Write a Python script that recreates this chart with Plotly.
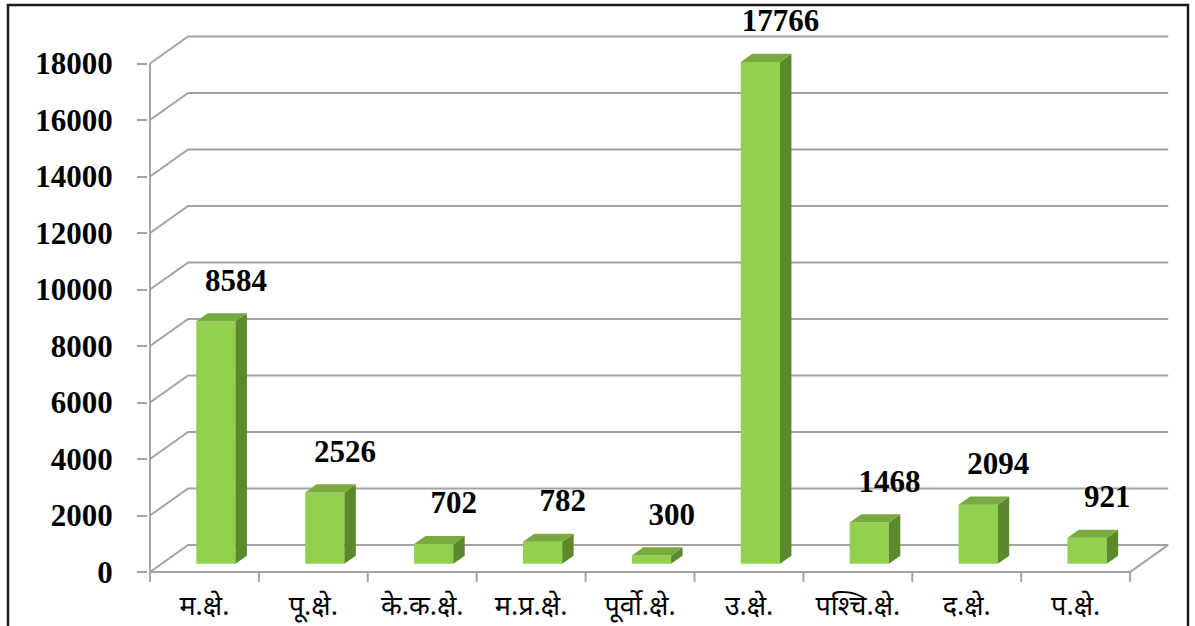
import plotly.graph_objects as go

# ---- data ----
categories = ["म.क्षे.", "पू.क्षे.", "के.क.क्षे.", "म.प्र.क्षे.", "पूर्वो.क्षे.",
              "उ.क्षे.", "पश्चि.क्षे.", "द.क्षे.", "प.क्षे."]
values = [8584, 2526, 702, 782, 300, 17766, 1468, 2094, 921]
y_ticks = [0, 2000, 4000, 6000, 8000, 10000, 12000, 14000, 16000, 18000]

# ---- geometry / style ----
W, H = 1195, 626
L, R, T, B = 148, 19, 12, 41
PX_CAT = 108.9      # px per category
PX_VAL = 0.02825    # px per value unit
OX, OY = 150, 572   # pixel position of data origin
x_min = (L - OX) / PX_CAT
x_max = (W - R - OX) / PX_CAT
y_min = -(H - B - OY) / PX_VAL
y_max = (OY - T) / PX_VAL

DX, DY = 0.35, 960          # full depth offset (data units)
F1, F2 = 0.30, 0.60         # bar front / back depth fraction
BAR_W = 0.36
n = len(categories)
GRID = "#A3A3A3"
FRONT = "#92D050"
SIDE = "#5B892C"
TOP = "#78AA3E"
LABEL_FONT = dict(family="Liberation Serif", size=31, color="black", weight="bold")

shapes = []
x_back_end = n + DX
for v in y_ticks:
    shapes.append(dict(type="path", xref="x", yref="y", layer="below",
                       path=f"M 0 {v} L {DX} {v + DY} L {x_back_end} {v + DY}",
                       line=dict(color=GRID, width=2)))
# floor front edge and right edge
shapes.append(dict(type="path", xref="x", yref="y", layer="below",
                   path=f"M 0 0 L {n} 0 L {n + DX} {DY}",
                   line=dict(color=GRID, width=2)))
# front y axis line
shapes.append(dict(type="line", xref="x", yref="y", layer="below",
                   x0=0, x1=0, y0=0, y1=y_ticks[-1], line=dict(color=GRID, width=2)))
# x tick marks at category boundaries
for i in range(n + 1):
    shapes.append(dict(type="line", xref="x", yref="y", layer="below",
                       x0=i, x1=i, y0=0, y1=-350, line=dict(color=GRID, width=2)))
# outer border
pw, ph = W - L - R, H - T - B
shapes.append(dict(type="rect", xref="paper", yref="paper",
                   x0=(8 - L) / pw, x1=(1188 - L) / pw,
                   y0=(H - B - 650) / ph, y1=(H - B - 5) / ph,
                   line=dict(color="#1a1a1a", width=2.5)))

xc = [i + 0.5 + F1 * DX for i in range(n)]
fig = go.Figure()
fig.add_trace(go.Bar(x=xc, y=values, base=F1 * DY, width=BAR_W,
                     marker=dict(color=FRONT, line=dict(width=0)), hoverinfo="skip"))

dd_x, dd_y = (F2 - F1) * DX, (F2 - F1) * DY
side_x, side_y, top_x, top_y = [], [], [], []
for c, v in zip(xc, values):
    xl, xr = c - BAR_W / 2, c + BAR_W / 2
    b0, t0 = F1 * DY, v + F1 * DY
    side_x += [xr, xr + dd_x, xr + dd_x, xr, xr, None]
    side_y += [b0, b0 + dd_y, t0 + dd_y, t0, b0, None]
    top_x += [xl, xl + dd_x, xr + dd_x, xr, xl, None]
    top_y += [t0, t0 + dd_y, t0 + dd_y, t0, t0, None]
fig.add_trace(go.Scatter(x=side_x, y=side_y, fill="toself", fillcolor=SIDE, mode="lines",
                         line=dict(width=0, color=SIDE), hoverinfo="skip"))
fig.add_trace(go.Scatter(x=top_x, y=top_y, fill="toself", fillcolor=TOP, mode="lines",
                         line=dict(width=0, color=TOP), hoverinfo="skip"))

fig.add_trace(go.Scatter(x=[i + 0.5 + 0.29 for i in range(n)], y=[v + 1650 for v in values],
                         mode="text", text=[str(v) for v in values],
                         textposition="middle center", textfont=LABEL_FONT,
                         cliponaxis=False, hoverinfo="skip"))

fig.update_layout(
    width=W, height=H, margin=dict(l=L, r=R, t=T, b=B),
    paper_bgcolor="white", plot_bgcolor="white", showlegend=False,
    shapes=shapes,
    xaxis=dict(range=[x_min, x_max], showgrid=False, zeroline=False, showline=False,
               tickvals=[i + 0.5 for i in range(n)], ticktext=categories, ticks="",
               ticklabelstandoff=2, automargin=False,
               tickfont=dict(family="Noto Sans", size=27, color="black"), fixedrange=True),
    yaxis=dict(range=[y_min, y_max], showgrid=False, zeroline=False, showline=False,
               tickvals=y_ticks, ticktext=[str(v) for v in y_ticks],
               ticks="outside", ticklen=10, tickwidth=2, tickcolor=GRID,
               ticklabelstandoff=18, automargin=False,
               tickfont=LABEL_FONT, fixedrange=True),
)
fig.write_html("out.html")
